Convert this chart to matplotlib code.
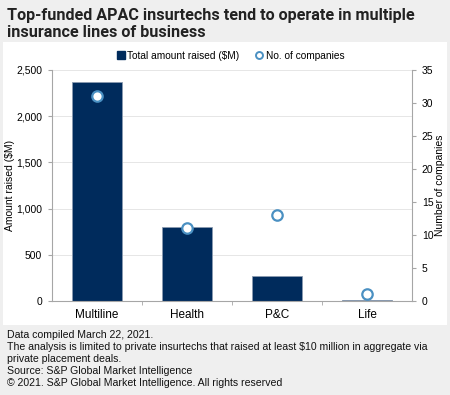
"""Top-funded APAC insurtechs by line of business: amount raised vs company count."""
import matplotlib

matplotlib.use("Agg")
import matplotlib.pyplot as plt
from matplotlib.lines import Line2D
from matplotlib.patches import Rectangle

categories = ["Multiline", "Health", "P&C", "Life"]
amount_raised = [2370, 805, 275, 12]
num_companies = [31, 11, 13, 1]

NAVY = "#002b5c"
CIRCLE = "#4a90c2"
GRID = "#e6e6e6"
AXIS = "#a6a6a6"

plt.rcParams["font.family"] = ["Liberation Sans", "DejaVu Sans"]

fig = plt.figure(figsize=(4.5, 3.95), dpi=100)
fig.patch.set_facecolor("#efefef")
# white chart panel
fig.add_artist(Rectangle((3 / 450, 1 - 325 / 395), 444 / 450, 283 / 395,
                         transform=fig.transFigure, facecolor="white",
                         edgecolor="none", zorder=0))

fig.text(7 / 450, 1 - 24 / 395, "Top-funded APAC insurtechs tend to operate in multiple\ninsurance lines of business",
         fontsize=11.6, fontweight="bold", family=["Roboto", "DejaVu Sans"], color="#222222",
         va="center", linespacing=1.15)

ax = fig.add_axes([52 / 450, 1 - 301 / 395, 360 / 450, 231 / 395])
ax.set_facecolor("none")
x = range(len(categories))
ax.bar(x, amount_raised, width=0.55, color=NAVY, edgecolor="#8a9bb0", linewidth=0.6, zorder=2)
ax.set_xlim(-0.5, len(categories) - 0.5)
ax.set_ylim(0, 2500)
ax.set_yticks(range(0, 2501, 500))
ax.set_yticklabels([f"{v:,}" for v in range(0, 2501, 500)])
ax.yaxis.grid(True, color=GRID, linewidth=0.7, zorder=0)
ax.set_axisbelow(True)
ax.set_xticks(list(x))
ax.set_xticklabels(categories)
ax.set_xticks([0.5, 1.5, 2.5], minor=True)
ax.tick_params(axis="x", which="major", length=0, pad=6, labelsize=8.5)
ax.tick_params(axis="x", which="minor", length=3, color=AXIS)
ax.tick_params(axis="y", length=3, color=AXIS, labelsize=7.5, pad=4)
ax.set_ylabel("Amount raised ($M)", fontsize=7.5, labelpad=1)
for side in ["top", "right"]:
    ax.spines[side].set_visible(False)
for side in ["left", "bottom"]:
    ax.spines[side].set_color(AXIS)

ax2 = ax.twinx()
ax2.plot(list(x), num_companies, linestyle="none", marker="o", markersize=7.5,
         markerfacecolor="white", markeredgecolor=CIRCLE, markeredgewidth=1.6, zorder=3)
ax2.set_ylim(0, 35)
ax2.set_yticks(range(0, 36, 5))
ax2.tick_params(axis="y", length=3, color=AXIS, labelsize=7.5, pad=4)
ax2.set_ylabel("Number of companies", fontsize=7.5, labelpad=1)
for side in ["top", "left", "bottom"]:
    ax2.spines[side].set_visible(False)
ax2.spines["right"].set_color(AXIS)

handles = [
    Line2D([], [], linestyle="none", marker="s", markersize=6, color=NAVY),
    Line2D([], [], linestyle="none", marker="o", markersize=5, markerfacecolor="white",
           markeredgecolor=CIRCLE, markeredgewidth=1.4),
]
fig.legend(handles, ["Total amount raised ($M)", "No. of companies"], loc="center",
           bbox_to_anchor=(230 / 450, 1 - 56 / 395), ncol=2, frameon=False, fontsize=7.3,
           handletextpad=0.1, columnspacing=1.5, handlelength=1)

footer = ("Data compiled March 22, 2021.\n"
          "The analysis is limited to private insurtechs that raised at least $10 million in aggregate via\n"
          "private placement deals.\n"
          "Source: S&P Global Market Intelligence\n"
          "© 2021. S&P Global Market Intelligence. All rights reserved")
fig.text(7 / 450, 1 - 330 / 395, footer, fontsize=7.6, va="top", linespacing=1.25, color="#111111")

fig.savefig("out.png", dpi=100, facecolor=fig.get_facecolor())
